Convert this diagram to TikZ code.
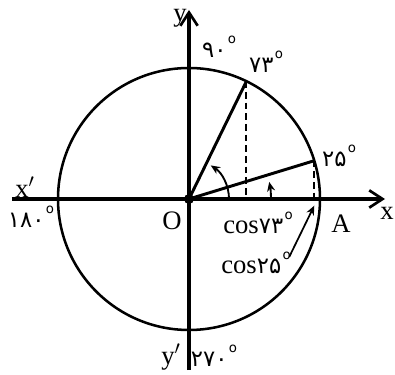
\documentclass[tikz,border=0pt]{standalone}
\usepackage{fontspec}
\setmainfont{Liberation Serif}
\newfontfamily\fanum{DejaVu Sans}
\usetikzlibrary{arrows.meta}
\newcommand{\dgr}{\kern1pt\raisebox{1.1ex}{\fanum\fontsize{10}{10}\selectfont o}}

\begin{document}
\begin{tikzpicture}[x=0.75pt,y=0.75pt,
    axis/.style={line width=2.6pt,-{Straight Barb[length=10pt,width=13pt,line width=2pt]}},
    radius/.style={line width=2.2pt},
    proj/.style={line width=1.6pt,dashed,dash pattern=on 5pt off 3pt},
    anglearc/.style={line width=1.4pt,-{Stealth[length=7pt,width=6pt]}},
    lbl/.style={font=\fontsize{20}{24}\selectfont,inner sep=1pt},
    fa/.style={font=\fontsize{17}{20}\selectfont\fanum,inner sep=1pt}]
    \useasboundingbox (-189,-175) rectangle (206,199);
    % unit circle and axes
    \coordinate (O) at (0,0);
    \draw[line width=1.9pt] (O) circle (131);
    \draw[axis] (-177,0) -- (196,0);
    \draw[axis] (0,-171) -- (0,189);
    % the two angles
    \coordinate (P) at (64:131);
    \coordinate (Q) at (17:131);
    \coordinate (Pf) at (P |- O);
    \coordinate (Qf) at (Q |- O);
    \draw[radius] (O) -- (P);
    \draw[radius] (O) -- (Q);
    \draw[proj] (P) -- (Pf);
    \draw[proj] (Q) -- (Qf);
    \draw[anglearc] (40,0) arc (0:57:40);
    \draw[anglearc] (82,0) arc (0:12:82);
    \fill (O) circle (5);
    % labels
    \node[lbl] (ylab) at (-9,181) {y};
    \node[lbl] (xlab) at (198,-14) {x};
    \node[lbl] (xplab) at (-164,12) {x$'$};
    \node[lbl] (yplab) at (-18,-158) {y$'$};
    \node[lbl] (Olab) at (-17,-22) {O};
    \node[lbl] (Alab) at (152,-25) {A};
    \node[fa] (d180) at (-158,-18) {۱۸۰\dgr};
    \node[fa] (d270) at (25,-157) {۲۷۰\dgr};
    \node[fa] (d90) at (30,152) {۹۰\dgr};
    \node[fa] (d73) at (77,137) {۷۳\dgr};
    \node[fa] (d25) at (150,43) {۲۵\dgr};
    \node[lbl] (c73) at (69,-24) {cos{\fanum\fontsize{17}{20}\selectfont ۷۳}\dgr};
    \node[lbl] (c25) at (67,-64) {cos{\fanum\fontsize{17}{20}\selectfont ۲۵}\dgr};
    \draw[line width=1.3pt,-{Stealth[length=7pt,width=6pt]}] (c25.north east) ++(-3,-6) -- ([yshift=-5pt]Qf);
\end{tikzpicture}
\end{document}
